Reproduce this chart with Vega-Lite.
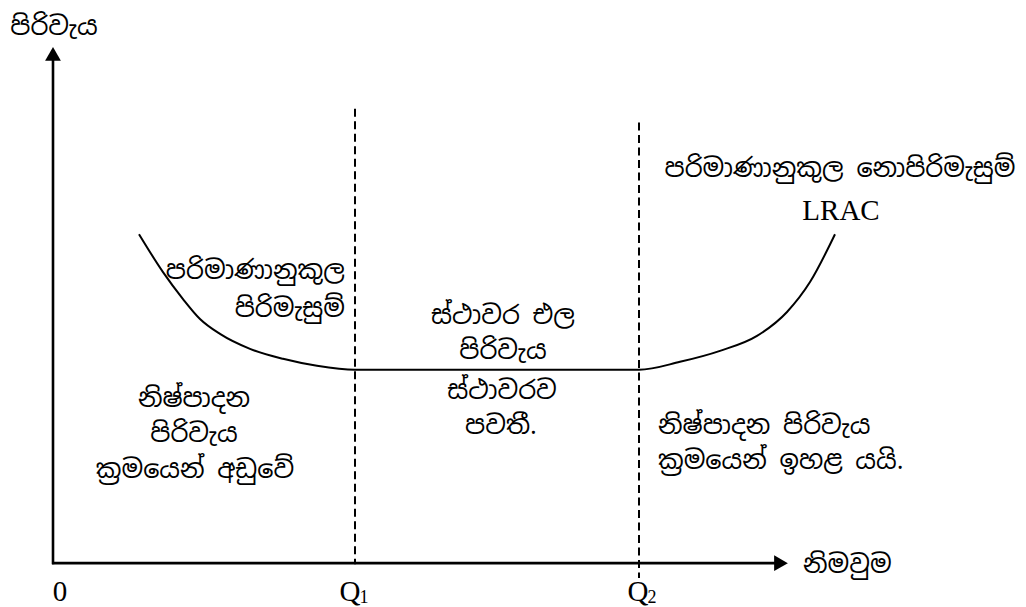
{
  "$schema": "https://vega.github.io/schema/vega-lite/v6.json",
  "width": 1026,
  "height": 607,
  "autosize": {"type": "fit", "contains": "padding"},
  "padding": 0,
  "background": "white",
  "config": {"view": {"stroke": null}},
  "datasets": {
    "dashes": [
      {"q": "Q1", "x": 302, "top": 456, "bottom": -1},
      {"q": "Q2", "x": 586, "top": 442, "bottom": -15}
    ],
    "axes": [
      {"axis": "cost", "x": 0, "y": -1, "x2": 0, "y2": 505},
      {"axis": "output", "x": -1, "y": 0, "x2": 722, "y2": 0}
    ],
    "arrows": [
      {"axis": "cost", "dir": "up", "x": 0, "y": 511},
      {"axis": "output", "dir": "right", "x": 728, "y": 0}
    ],
    "lrac": [
      {"q": 86, "c": 330}, {"q": 110, "c": 292}, {"q": 130, "c": 265},
      {"q": 147, "c": 245}, {"q": 167, "c": 230}, {"q": 197, "c": 215},
      {"q": 230, "c": 205}, {"q": 264, "c": 198}, {"q": 302, "c": 194},
      {"q": 450, "c": 194}, {"q": 586, "c": 194},
      {"q": 627, "c": 202}, {"q": 667, "c": 213}, {"q": 704, "c": 228},
      {"q": 734, "c": 252}, {"q": 757, "c": 282}, {"q": 782, "c": 330}
    ],
    "centerText": [
      {"x": 1, "y": 538, "t": "පිරිවැය"},
      {"x": 787, "y": 395, "t": "පරිමාණානුකුල නොපිරිමැසුම්"},
      {"x": 450, "y": 248, "t": "ස්ථාවර එල"},
      {"x": 450, "y": 213, "t": "පිරිවැය"},
      {"x": 449, "y": 173, "t": "ස්ථාවරව"},
      {"x": 448, "y": 138, "t": "පවතී."},
      {"x": 141, "y": 165, "t": "නිෂ්පාදන"},
      {"x": 141, "y": 130, "t": "පිරිවැය"},
      {"x": 142, "y": 93, "t": "ක්‍රමයෙන් අඩුවේ"}
    ],
    "rightText": [
      {"x": 292, "y": 293, "t": "පරිමාණානුකුල"},
      {"x": 292, "y": 255, "t": "පිරිමැසුම්"}
    ],
    "leftText": [
      {"x": 605, "y": 138, "t": "නිෂ්පාදන පිරිවැය"},
      {"x": 605, "y": 102, "t": "ක්‍රමයෙන් ඉහළ යයි."},
      {"x": 750, "y": -2, "t": "නිමවුම"}
    ],
    "latin": [
      {"x": 7, "y": -29, "t": "0"},
      {"x": 297, "y": -29, "t": "Q"},
      {"x": 585, "y": -29, "t": "Q"},
      {"x": 788, "y": 353, "t": "LRAC"}
    ],
    "subs": [
      {"x": 311, "y": -35, "t": "1"},
      {"x": 599, "y": -35, "t": "2"}
    ]
  },
  "layer": [
    {
      "data": {"name": "dashes"},
      "mark": {"type": "rule", "color": "black", "strokeWidth": 2, "strokeDash": [8, 4.5]},
      "encoding": {
        "x": {"field": "x", "type": "quantitative", "scale": {"domain": [-53, 973], "nice": false, "zero": false}, "axis": null},
        "y": {"field": "top", "type": "quantitative", "scale": {"domain": [-42, 565], "nice": false, "zero": false}, "axis": null},
        "y2": {"field": "bottom"}
      }
    },
    {
      "data": {"name": "axes"},
      "mark": {"type": "rule", "color": "black", "strokeWidth": 2.6},
      "encoding": {
        "x": {"field": "x", "type": "quantitative", "axis": null},
        "y": {"field": "y", "type": "quantitative", "axis": null},
        "x2": {"field": "x2"},
        "y2": {"field": "y2"}
      }
    },
    {
      "data": {"name": "arrows"},
      "mark": {"type": "point", "filled": true, "color": "black", "opacity": 1, "size": 250, "strokeWidth": 0},
      "encoding": {
        "x": {"field": "x", "type": "quantitative", "axis": null},
        "y": {"field": "y", "type": "quantitative", "axis": null},
        "shape": {"field": "dir", "type": "nominal", "scale": {"domain": ["up", "right"], "range": ["triangle-up", "triangle-right"]}, "legend": null}
      }
    },
    {
      "data": {"name": "lrac"},
      "mark": {"type": "line", "color": "black", "strokeWidth": 2, "interpolate": "monotone"},
      "encoding": {
        "x": {"field": "q", "type": "quantitative", "axis": null},
        "y": {"field": "c", "type": "quantitative", "axis": null}
      }
    },
    {
      "data": {"name": "centerText"},
      "mark": {"type": "text", "align": "center", "baseline": "middle", "fontSize": 25.5, "font": "Noto Sans Sinhala, Noto Sans, sans-serif", "color": "black"},
      "encoding": {
        "x": {"field": "x", "type": "quantitative", "axis": null},
        "y": {"field": "y", "type": "quantitative", "axis": null},
        "text": {"field": "t"}
      }
    },
    {
      "data": {"name": "rightText"},
      "mark": {"type": "text", "align": "right", "baseline": "middle", "fontSize": 25.5, "font": "Noto Sans Sinhala, Noto Sans, sans-serif", "color": "black"},
      "encoding": {
        "x": {"field": "x", "type": "quantitative", "axis": null},
        "y": {"field": "y", "type": "quantitative", "axis": null},
        "text": {"field": "t"}
      }
    },
    {
      "data": {"name": "leftText"},
      "mark": {"type": "text", "align": "left", "baseline": "middle", "fontSize": 25.5, "font": "Noto Sans Sinhala, Noto Sans, sans-serif", "color": "black"},
      "encoding": {
        "x": {"field": "x", "type": "quantitative", "axis": null},
        "y": {"field": "y", "type": "quantitative", "axis": null},
        "text": {"field": "t"}
      }
    },
    {
      "data": {"name": "latin"},
      "mark": {"type": "text", "align": "center", "baseline": "middle", "fontSize": 29, "font": "Liberation Serif", "color": "black"},
      "encoding": {
        "x": {"field": "x", "type": "quantitative", "axis": null},
        "y": {"field": "y", "type": "quantitative", "axis": null},
        "text": {"field": "t"}
      }
    },
    {
      "data": {"name": "subs"},
      "mark": {"type": "text", "align": "center", "baseline": "middle", "fontSize": 18, "font": "Liberation Serif", "color": "black"},
      "encoding": {
        "x": {"field": "x", "type": "quantitative", "axis": null},
        "y": {"field": "y", "type": "quantitative", "axis": null},
        "text": {"field": "t"}
      }
    }
  ]
}
